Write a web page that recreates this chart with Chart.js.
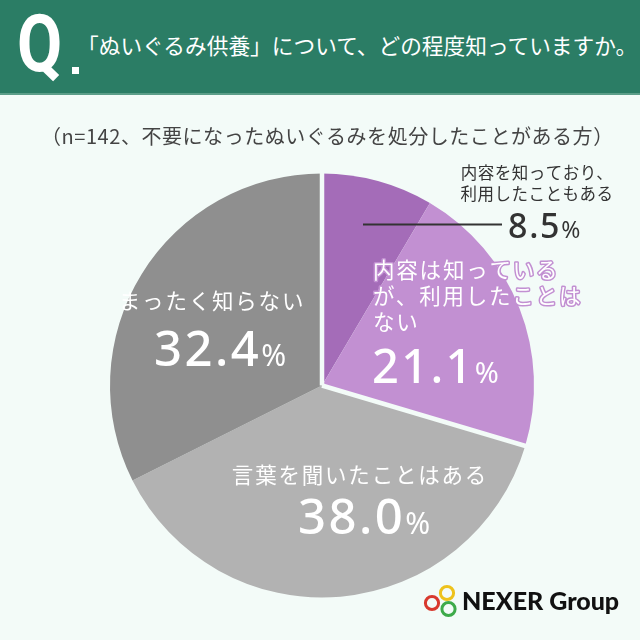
<!DOCTYPE html>
<html lang="ja">
<head>
<meta charset="utf-8">
<script src="https://cdn.jsdelivr.net/npm/chart.js@4/dist/chart.umd.min.js"></script>
<style>
  html, body { margin:0; padding:0; }
  body { width:640px; height:640px; background:#f3fbf8; position:relative; overflow:hidden; font-family:"Noto Sans CJK JP","Noto Sans",sans-serif; }
  #header { position:absolute; left:0; top:0; width:640px; height:93px; background:#2b7d65; border-bottom:2px solid #5c9e89; }
  #q { position:absolute; left:17px; top:4px; font-family:Roboto,"Noto Sans",sans-serif; font-weight:700; font-size:80px; line-height:80px; color:#fff; transform:scaleX(0.82); transform-origin:left top; }
  #qdot { position:absolute; left:72px; top:67px; width:7px; height:7px; background:#fff; }
  #qtext { position:absolute; left:77px; top:31px; font-size:21.7px; line-height:28px; color:#fff; white-space:nowrap; }
  #sub { position:absolute; left:41px; top:122px; font-size:20px; letter-spacing:0.55px; line-height:28px; color:#444; white-space:nowrap; }
  #chart { position:absolute; left:0; top:0; }
  #logo { position:absolute; left:420px; top:578px; width:210px; height:45px; }
  #logotext { position:absolute; left:462px; top:584px; font-family:Lato,"Noto Sans",sans-serif; font-weight:900; font-size:25px; line-height:32px; color:#111; white-space:nowrap; }
</style>
</head>
<body>
<canvas id="chart" width="640" height="640"></canvas>
<div id="header">
  <div id="q">Q</div>
  <div id="qdot"></div>
  <div id="qtext">「ぬいぐるみ供養」について、どの程度知っていますか。</div>
</div>
<div id="sub">（n=142、不要になったぬいぐるみを処分したことがある方）</div>
<svg id="logo" viewBox="420 578 210 45" width="210" height="45">
  <circle cx="447" cy="593" r="6.6" fill="none" stroke="#eec21c" stroke-width="3"/>
  <circle cx="432" cy="603" r="6.6" fill="none" stroke="#d8392e" stroke-width="3"/>
  <circle cx="448.5" cy="609" r="6.6" fill="none" stroke="#3daa4a" stroke-width="3"/>
</svg>
<div id="logotext">NEXER Group</div>
<script>
// ---- data ----
const categories = [
  '内容を知っており、利用したこともある',
  '内容は知っているが、利用したことはない',
  '言葉を聞いたことはある',
  'まったく知らない'
];
const values = [8.5, 21.1, 38.0, 32.4];
const labelLines = [
  ['内容を知っており、', '利用したこともある'],
  ['内容は知っている', 'が、利用したことは', 'ない'],
  ['言葉を聞いたことはある'],
  ['まったく知らない']
];
const sliceColors = ['#a46cb8', '#c290d2', '#b2b2b2', '#8f8f8f'];
const BG = '#f3fbf8';

// separators only between purple group and gray group
const separatorPlugin = {
  id: 'separators',
  afterDatasetsDraw(chart) {
    const arcs = chart.getDatasetMeta(0).data;
    const ctx = chart.ctx;
    const cx = arcs[0].x, cy = arcs[0].y, R = arcs[0].outerRadius;
    const angles = [arcs[0].startAngle, arcs[1].endAngle];
    ctx.save();
    ctx.strokeStyle = BG;
    ctx.lineWidth = 4.5;
    angles.forEach(a => {
      ctx.beginPath();
      ctx.moveTo(cx, cy);
      ctx.lineTo(cx + (R + 3) * Math.cos(a), cy + (R + 3) * Math.sin(a));
      ctx.stroke();
    });
    ctx.restore();
  }
};

function drawNumber(ctx, value, x, y, bigSize, smallSize, align, color) {
  const num = value.toFixed(1);
  const bigFont = '500 ' + bigSize + 'px "Noto Sans", "Noto Sans CJK JP", sans-serif';
  const smallFont = '400 ' + smallSize + 'px "Noto Sans", "Noto Sans CJK JP", sans-serif';
  const ls = (bigSize * 0.05) + 'px';
  ctx.save();
  ctx.fillStyle = color;
  ctx.textBaseline = 'alphabetic';
  ctx.textAlign = 'left';
  ctx.letterSpacing = ls;
  ctx.font = bigFont;
  const w1 = ctx.measureText(num).width;
  ctx.letterSpacing = '0px';
  ctx.font = smallFont;
  const w2 = ctx.measureText('%').width;
  const total = w1 + w2;
  const x0 = align === 'center' ? x - total / 2 : x;
  ctx.letterSpacing = ls;
  ctx.font = bigFont;
  ctx.fillText(num, x0, y);
  ctx.letterSpacing = '0px';
  ctx.font = smallFont;
  ctx.fillText('%', x0 + w1, y);
  ctx.restore();
}

const labelPlugin = {
  id: 'sliceLabels',
  afterDraw(chart) {
    const arcs = chart.getDatasetMeta(0).data;
    const ctx = chart.ctx;
    const cx = arcs[0].x, cy = arcs[0].y;
    ctx.save();
    ctx.textBaseline = 'middle';

    // slice 0: outside label with leader line
    ctx.font = '400 16.5px "Noto Sans CJK JP", sans-serif';
    ctx.fillStyle = '#333';
    ctx.textAlign = 'center';
    ctx.letterSpacing = '0.5px';
    labelLines[0].forEach((t, i) => ctx.fillText(t, cx + 215, cy - 213 + i * 21));
    ctx.letterSpacing = '0px';
    ctx.strokeStyle = '#333';
    ctx.lineWidth = 2;
    ctx.beginPath();
    ctx.moveTo(cx + 41, cy - 161);
    ctx.lineTo(cx + 180, cy - 161);
    ctx.stroke();
    drawNumber(ctx, values[0], cx + 186, cy - 148, 34, 23, 'left', '#333');

    // slice 1: white text with purple outline
    ctx.font = '400 21.5px "Noto Sans CJK JP", sans-serif';
    ctx.textAlign = 'left';
    ctx.textBaseline = 'middle';
    ctx.letterSpacing = '1.8px';
    ctx.lineJoin = 'round';
    labelLines[1].forEach((t, i) => {
      const y = cy - 116 + i * 26;
      ctx.strokeStyle = sliceColors[1];
      ctx.lineWidth = 3;
      ctx.strokeText(t, cx + 51, y);
      ctx.fillStyle = '#fff';
      ctx.fillText(t, cx + 51, y);
    });
    ctx.letterSpacing = '0px';
    drawNumber(ctx, values[1], cx + 50, cy - 3, 47, 29, 'left', '#fff');

    // slice 2
    ctx.font = '400 21.5px "Noto Sans CJK JP", sans-serif';
    ctx.textAlign = 'center';
    ctx.textBaseline = 'middle';
    ctx.fillStyle = '#fff';
    ctx.letterSpacing = '1.8px';
    ctx.fillText(labelLines[2][0], cx + 38, cy + 89);
    ctx.letterSpacing = '0px';
    drawNumber(ctx, values[2], cx + 42, cy + 148, 49, 30, 'center', '#fff');

    // slice 3
    ctx.font = '400 21.5px "Noto Sans CJK JP", sans-serif';
    ctx.textAlign = 'center';
    ctx.textBaseline = 'middle';
    ctx.fillStyle = '#fff';
    ctx.letterSpacing = '1.8px';
    ctx.fillText(labelLines[3][0], cx - 110, cy - 85);
    ctx.letterSpacing = '0px';
    drawNumber(ctx, values[3], cx - 102, cy - 20, 49, 30, 'center', '#fff');

    ctx.restore();
  }
};

new Chart(document.getElementById('chart'), {
  type: 'pie',
  data: {
    labels: categories,
    datasets: [{
      data: values,
      backgroundColor: sliceColors,
      borderWidth: 0
    }]
  },
  options: {
    responsive: false,
    animation: false,
    layout: { padding: { top: 173, bottom: 42, left: 110, right: 106 } },
    plugins: { legend: { display: false }, tooltip: { enabled: false } }
  },
  plugins: [separatorPlugin, labelPlugin]
});
</script>
</body>
</html>
